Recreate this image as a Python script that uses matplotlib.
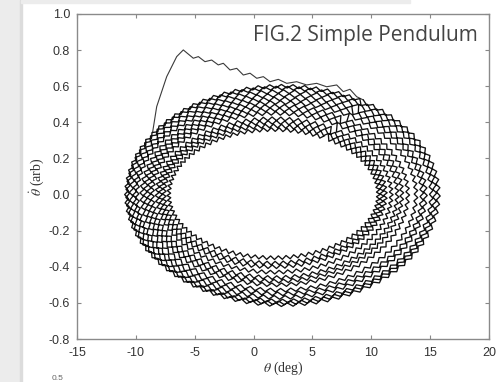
import numpy as np
import matplotlib.pyplot as plt
from matplotlib.patches import Rectangle

# swing-up transient before the pendulum settles into its orbit (deg, arb)
transient_theta = [-8.57, -8.23, -7.38, -6.53, -5.97, -5.12, -4.69, -4.13, -3.56,
                   -3.00, -2.57, -2.00, -1.43, -0.87, -0.30, 0.27, 0.83, 1.40,
                   2.10, 2.82, 3.66, 4.51, 5.36, 6.21, 7.06, 7.62, 8.19, 8.76, 9.32]
transient_omega = [0.348, 0.487, 0.653, 0.764, 0.801, 0.755, 0.764, 0.736, 0.745,
                   0.718, 0.727, 0.690, 0.699, 0.662, 0.672, 0.644, 0.653, 0.625,
                   0.638, 0.616, 0.625, 0.607, 0.616, 0.597, 0.607, 0.570, 0.583,
                   0.542, 0.524]

# turning points of each swing, outermost first
swing_left = [-10.8, -10.7, -10.4, -10.1, -9.9, -9.5, -9.2, -8.9, -8.6, -8.2, -7.9, -7.6, -7.2]
swing_right = [15.7, 15.4, 15.1, 14.6, 14.3, 13.8, 13.1, 12.6, 12.2, 11.7, 11.2, 10.9, 10.6]
swing_top = [0.60, 0.59, 0.57, 0.55, 0.53, 0.51, 0.49, 0.47, 0.45, 0.42, 0.40, 0.38, 0.36]
swing_bottom = [-0.61, -0.60, -0.59, -0.57, -0.55, -0.53, -0.50, -0.48, -0.46, -0.43, -0.40, -0.38, -0.35]

x_ticks = [-15, -10, -5, 0, 5, 10, 15, 20]
y_ticks = [-0.8, -0.6, -0.4, -0.2, 0.0, 0.2, 0.4, 0.6, 0.8, 1.0]

plt.rcParams['mathtext.fontset'] = 'stix'

W, H = 496, 382
fig = plt.figure(figsize=(W / 100, H / 100), dpi=100)
ax = fig.add_axes([77 / W, 1 - 339 / H, 412 / W, 325 / H])
px_x = 412 / 35.0   # pixels per degree
px_y = 325 / 1.8    # pixels per unit of angular velocity

# readings arrive at a fixed rate, ~168.7 per swing, so the sample
# phase drifts from one swing to the next
per_swing = 168.7
n = int(len(swing_left) * per_swing)
i = np.arange(n)
t = -1.03 + 2 * np.pi * i / per_swing
k = np.minimum((i / per_swing).astype(int), len(swing_left) - 1)
left = np.array(swing_left)[k]
right = np.array(swing_right)[k]
c = (left + right) / 2
a = (right - left) / 2
s = np.sin(t)
b = np.where(s < 0, np.array(swing_top)[k], -np.array(swing_bottom)[k])
theta = c + a * np.cos(t)
omega = -b * s

# readout jitter: alternate readings sit slightly either side of the orbit
nx = np.cos(t) * b * px_y
ny = -s * a * px_x
norm = np.hypot(nx, ny)
d = 1.8 * (-1.0) ** i
theta = theta + d * nx / norm / px_x
omega = omega + d * ny / norm / px_y

ax.plot(transient_theta, transient_omega, color='#3a3a3a', lw=0.8)
ax.plot(theta, omega, color='#111111', lw=0.95)

ax.set_xlim(-15, 20)
ax.set_ylim(-0.8, 1.0)
ax.set_xticks(x_ticks)
ax.set_yticks(y_ticks)
ax.set_xticklabels([str(v) for v in x_ticks])
ax.set_yticklabels(['%.1f' % v for v in y_ticks])
ax.tick_params(direction='in', length=3, width=0.8, color='#888888',
               top=True, right=True, labelsize=9, labelcolor='#333333')
ax.tick_params(axis='x', pad=6)
ax.tick_params(axis='y', pad=5)
for lab in ax.get_xticklabels() + ax.get_yticklabels():
    lab.set_family('Liberation Sans')
for sp in ax.spines.values():
    sp.set_color('#8a8a8a')
    sp.set_linewidth(1.0)

ax.set_xlabel(r'$\theta$ (deg)', family='Liberation Serif', fontsize=10,
              color='#333333', labelpad=0)
ax.set_ylabel(r'$\dot{\theta}$ (arb)', family='Liberation Serif', fontsize=10,
              color='#333333', labelpad=2)

fig.text(478 / W, 1 - 36 / H, 'FIG.2 Simple Pendulum', family='Open Sans',
         fontsize=15, color='#444444', ha='right', va='center')

# page margins around the figure panel
fig.patches.append(Rectangle((0, 0), 20 / W, 1, transform=fig.transFigure,
                             color='#ececec', zorder=-1))
fig.patches.append(Rectangle((20 / W, 0), 1.5 / W, 1, transform=fig.transFigure,
                             color='#dcdcdc', zorder=-1))
fig.patches.append(Rectangle((21 / W, 1 - 3 / H), 389 / W, 3 / H,
                             transform=fig.transFigure, color='#ececec', zorder=-1))
fig.text(58 / W, 0.5 / H, '0.5', family='Liberation Sans', fontsize=6,
         color='#666666', ha='center', va='bottom')

fig.savefig('out.png', dpi=100)
